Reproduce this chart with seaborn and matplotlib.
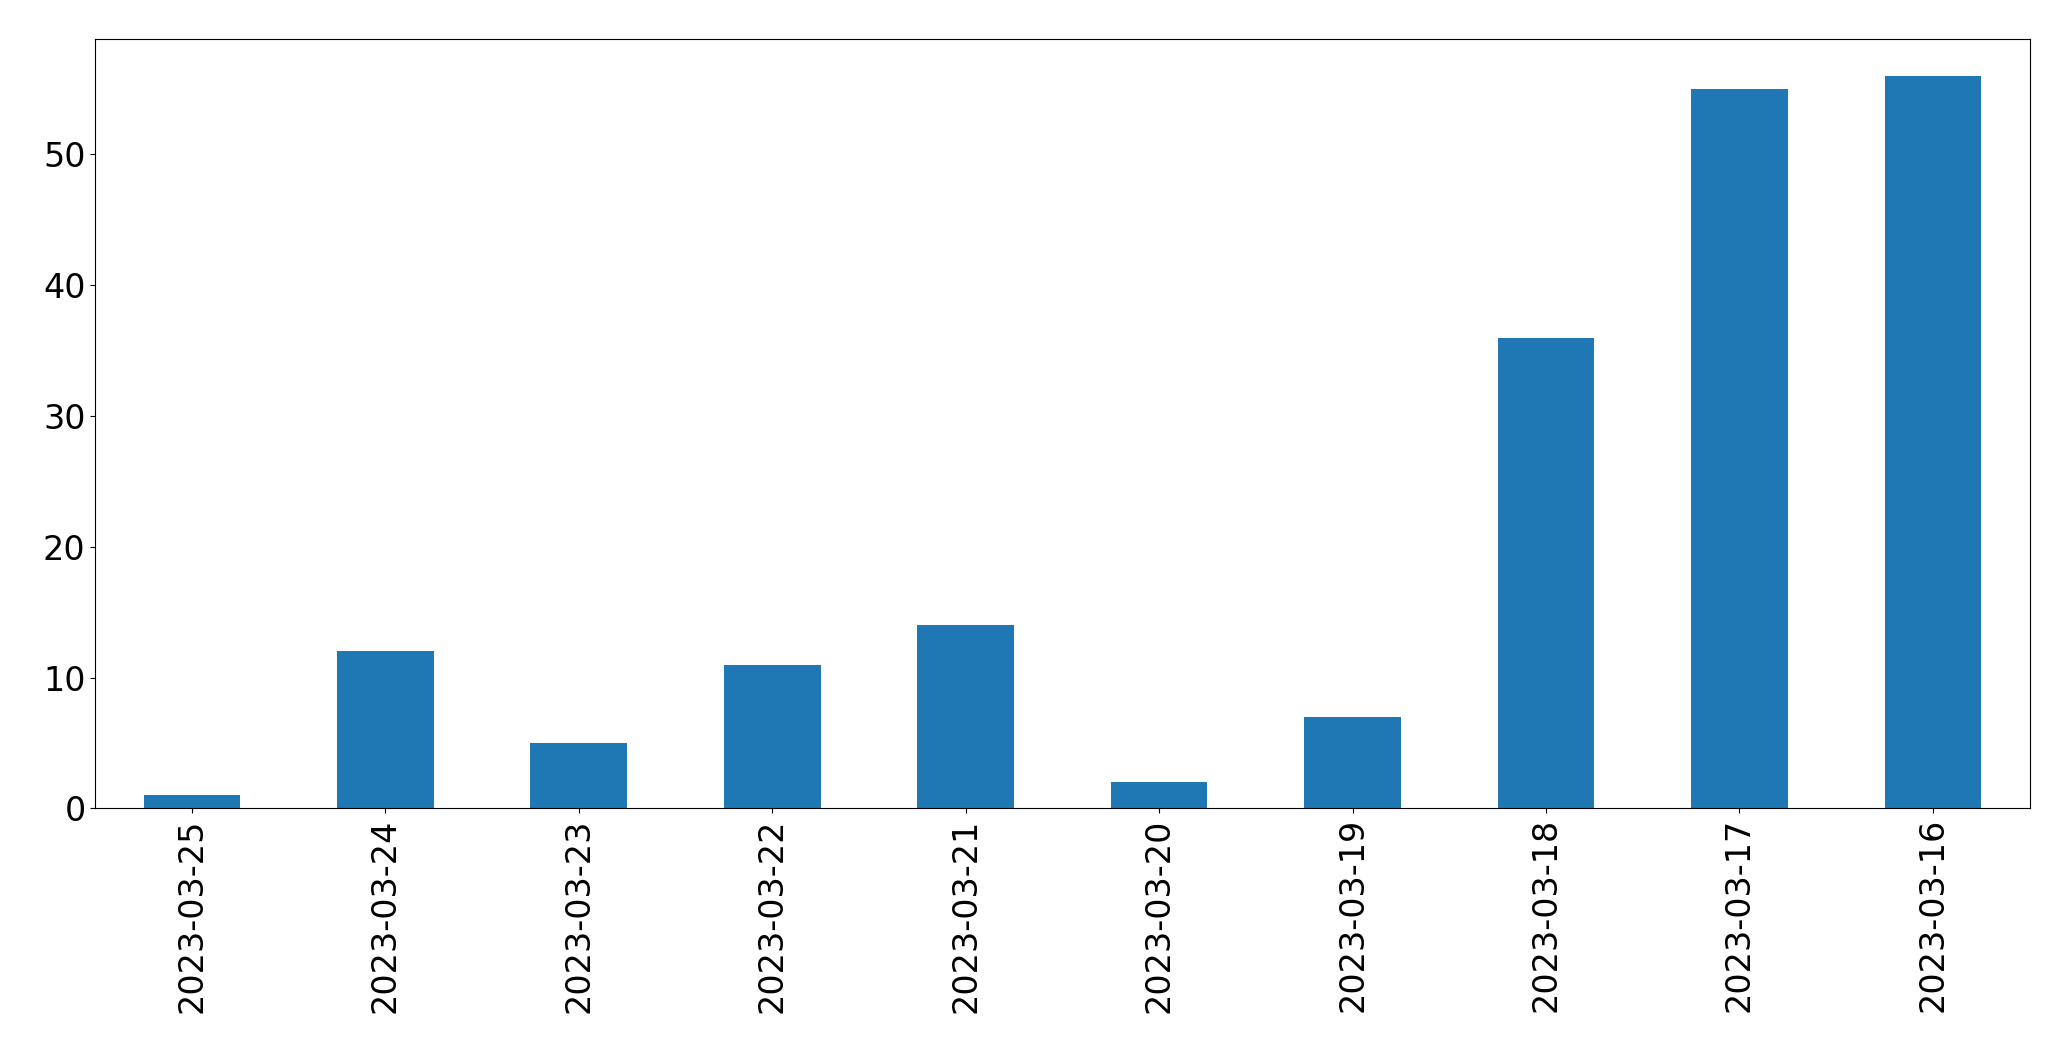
import matplotlib
matplotlib.use("Agg")
import matplotlib.pyplot as plt
import seaborn as sns
import pandas as pd

dates = ["2023-03-25","2023-03-24","2023-03-23","2023-03-22","2023-03-21",
         "2023-03-20","2023-03-19","2023-03-18","2023-03-17","2023-03-16"]
counts = [1, 12, 5, 11, 14, 2, 7, 36, 55, 56]

df = pd.DataFrame({"date": dates, "count": counts})
fig = plt.figure(figsize=(20.71, 10.61), dpi=100)
ax = fig.add_axes([0.046, 0.238, 0.934, 0.725])
sns.barplot(data=df, x="date", y="count", order=dates, color="#1f77b4",
            saturation=1, width=0.5, ax=ax)
ax.set_xlabel("")
ax.set_ylabel("")
ax.tick_params(axis="both", labelsize=24)
ax.tick_params(axis="x", labelrotation=90)
fig.savefig("out.png", dpi=100)
